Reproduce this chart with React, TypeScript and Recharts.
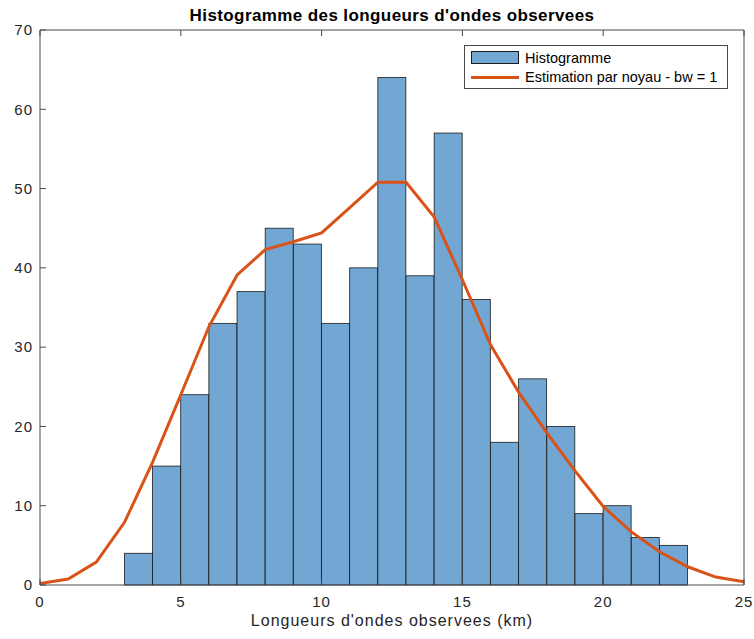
import React from 'react';
import { ComposedChart, Bar, Line, XAxis, YAxis } from 'recharts';

// bin left edges (unit bins) and counts
const binStarts = [3, 4, 5, 6, 7, 8, 9, 10, 11, 12, 13, 14, 15, 16, 17, 18, 19, 20, 21, 22];
const counts = [4, 15, 24, 33, 37, 45, 43, 33, 40, 64, 39, 57, 36, 18, 26, 20, 9, 10, 6, 5];

// kernel density estimate (scaled), evaluated at 0..25
const kdeX = [0, 1, 2, 3, 4, 5, 6, 7, 8, 9, 10, 11, 12, 13, 14, 15, 16, 17, 18, 19, 20, 21, 22, 23, 24, 25];
const kdeY = [0.2, 0.75, 2.9, 7.9, 15.5, 24, 32.6, 39.1, 42.3, 43.3, 44.4, 47.6, 50.8, 50.8, 46.4, 38.5, 30.3, 24.3, 19.2, 14.4, 9.9, 6.7, 4.2, 2.3, 1.0, 0.4];

const xTicks = [0, 5, 10, 15, 20, 25];
const yTicks = [0, 10, 20, 30, 40, 50, 60, 70];

const FONT = '"Liberation Sans", Arial, Helvetica, sans-serif';
const AXIS = '#4a4a4a';
const TEXT = '#262626';
const BAR_FILL = '#72a7d4';
const LINE = '#d95319';

const data = kdeX.map((x, i) => {
    const b = binStarts.indexOf(x);
    return { x, kde: kdeY[i], hist: b >= 0 ? counts[b] : undefined };
});

// bars sit on the bin's left edge, shift them half a band to cover [x, x+1]
const BinShape = (props: any) => {
    const { x, y, width, height } = props;
    if (!height || height <= 0) return null;
    return (
        <rect
            x={x + width / 2}
            y={y}
            width={width}
            height={height}
            fill={BAR_FILL}
            stroke="#1a1a1a"
            strokeWidth={0.8}
        />
    );
};

const LegendBox = () => (
    <div
        style={{
            position: 'absolute',
            left: 464,
            top: 45,
            border: '1px solid #4a4a4a',
            background: '#fff',
            width: 262,
            padding: '2px 0 1px 0',
            fontFamily: FONT,
            fontSize: 14.5,
            color: '#000',
        }}
    >
        <div style={{ display: 'flex', alignItems: 'center', height: 19.5 }}>
            <div style={{ width: 46, height: 11, background: BAR_FILL, border: '1px solid #1a1a1a', marginLeft: 6, marginRight: 6 }} />
            <span>Histogramme</span>
        </div>
        <div style={{ display: 'flex', alignItems: 'center', height: 19.5 }}>
            <div style={{ width: 48, height: 3, background: LINE, marginLeft: 6, marginRight: 6 }} />
            <span>Estimation par noyau - bw = 1</span>
        </div>
    </div>
);

export default function App() {
    const tickStyle = { fill: TEXT, fontSize: 15, fontFamily: FONT, letterSpacing: 1 };
    return (
        <div style={{ position: 'absolute', left: 0, top: 0, width: 754, height: 639, background: '#fff' }}>
            <div
                style={{
                    position: 'absolute',
                    left: 40,
                    width: 704,
                    top: 6,
                    textAlign: 'center',
                    fontFamily: FONT,
                    fontWeight: 'bold',
                    fontSize: 17,
                    letterSpacing: 0.4,
                    color: '#000',
                }}
            >
                Histogramme des longueurs d'ondes observees
            </div>
            <div
                style={{
                    position: 'absolute',
                    left: 40,
                    width: 704,
                    top: 612,
                    textAlign: 'center',
                    fontFamily: FONT,
                    fontSize: 16,
                    letterSpacing: 1,
                    color: TEXT,
                }}
            >
                Longueurs d'ondes observees (km)
            </div>
            <ComposedChart
                width={754}
                height={639}
                data={data}
                margin={{ top: 29, right: 9, bottom: 24, left: 0 }}
                barCategoryGap={0}
                barGap={0}
            >
                <XAxis
                    xAxisId="b"
                    dataKey="x"
                    type="number"
                    domain={[0, 25]}
                    ticks={xTicks}
                    allowDataOverflow
                    height={30}
                    stroke={AXIS}
                    tickSize={-6}
                    tickMargin={17}
                    tick={tickStyle}
                />
                <XAxis
                    xAxisId="t"
                    orientation="top"
                    dataKey="x"
                    type="number"
                    domain={[0, 25]}
                    ticks={xTicks}
                    height={1}
                    stroke={AXIS}
                    tickSize={-6}
                    tickFormatter={() => ''}
                />
                <YAxis
                    yAxisId="l"
                    type="number"
                    domain={[0, 70]}
                    ticks={yTicks}
                    width={40}
                    stroke={AXIS}
                    tickSize={-6}
                    tickMargin={13}
                    tick={tickStyle}
                />
                <YAxis
                    yAxisId="r"
                    orientation="right"
                    type="number"
                    domain={[0, 70]}
                    ticks={yTicks}
                    width={1}
                    stroke={AXIS}
                    tickSize={-6}
                    tickFormatter={() => ''}
                />
                <Bar
                    dataKey="hist"
                    xAxisId="b"
                    yAxisId="l"
                    shape={BinShape}
                    isAnimationActive={false}
                />
                <Line
                    dataKey="kde"
                    xAxisId="b"
                    yAxisId="l"
                    type="linear"
                    stroke={LINE}
                    strokeWidth={3}
                    dot={false}
                    activeDot={false}
                    isAnimationActive={false}
                />
            </ComposedChart>
            <LegendBox />
        </div>
    );
}
